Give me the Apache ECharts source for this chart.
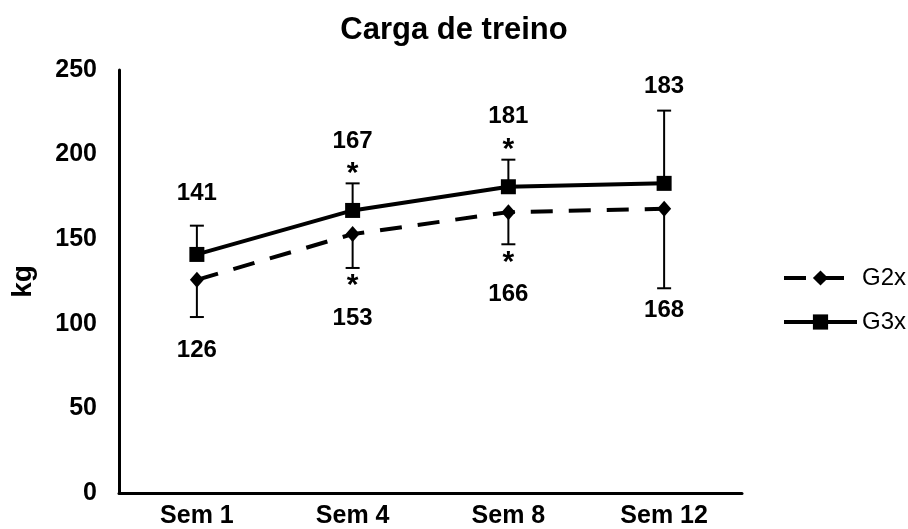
<!DOCTYPE html>
<html>
<head>
<meta charset="utf-8">
<script src="https://cdn.jsdelivr.net/npm/echarts@6/dist/echarts.min.js"></script>
<style>
  html, body { margin: 0; padding: 0; background: #fff; }
  #chart { width: 908px; height: 529px; }
</style>
</head>
<body>
<div id="chart"></div>
<script>
// Weekly training load (kg), mean ± SD for each group
const categories = ['Sem 1', 'Sem 4', 'Sem 8', 'Sem 12'];
const g2Mean = [126, 153, 166, 168];
const g3Mean = [141, 167, 181, 183];
const g2Sd = [22, 20, 19, 47];
const g3Sd = [17, 16, 16, 43];
const significant = [false, true, true, false];
const yTicks = [0, 50, 100, 150, 200, 250];

const FONT = '"Liberation Sans", Arial, sans-serif';

// distance (px) from the end of each error bar to its value label
const labelGapAbove = [32, 42, 43, 24];
const labelGapBelow = [33, 50, 50, 22];

// rows: [categoryIndex, mean, sd, direction (+1 up / -1 down), significant]
function errorRows(means, sds, dir) {
  return means.map((m, i) => [i, m, sds[i], dir, significant[i] ? 1 : 0]);
}

function renderError(params, api) {
  const i = api.value(0);
  const mean = api.value(1);
  const sd = api.value(2);
  const dir = api.value(3);
  const sig = api.value(4);
  const p0 = api.coord([i, mean]);
  const p1 = api.coord([i, mean + dir * sd]);
  const cap = 7;
  const stroke = { stroke: '#000', lineWidth: 2 };
  const children = [
    { type: 'line', shape: { x1: p0[0], y1: p0[1], x2: p1[0], y2: p1[1] }, style: stroke },
    { type: 'line', shape: { x1: p1[0] - cap, y1: p1[1], x2: p1[0] + cap, y2: p1[1] }, style: stroke }
  ];
  if (sig) {
    children.push({
      type: 'text',
      style: {
        x: p1[0], y: p1[1] - dir * 14 + 4,
        text: '*', fill: '#000',
        font: 'bold 30px ' + FONT,
        align: 'center', verticalAlign: 'middle'
      }
    });
  }
  const gap = dir > 0 ? labelGapAbove[i] : labelGapBelow[i];
  children.push({
    type: 'text',
    style: {
      x: p1[0], y: p1[1] - dir * gap,
      text: String(mean), fill: '#000',
      font: 'bold 24px ' + FONT,
      align: 'center', verticalAlign: 'middle'
    }
  });
  return { type: 'group', children };
}

const chart = echarts.init(document.getElementById('chart'), null, { renderer: 'canvas' });

chart.setOption({
  animation: false,
  backgroundColor: '#fff',
  textStyle: { fontFamily: FONT },
  title: {
    text: 'Carga de treino',
    left: 'center',
    top: 10,
    textStyle: { fontFamily: FONT, fontWeight: 'bold', fontSize: 31, color: '#000' }
  },
  legend: {
    orient: 'vertical',
    left: 782,
    top: 266,
    padding: 0,
    itemWidth: 73,
    itemHeight: 19,
    itemGap: 20,
    data: ['G2x', 'G3x'],
    lineStyle: { width: 4 },
    textStyle: { fontFamily: FONT, fontSize: 24, color: '#000' }
  },
  grid: { left: 119, right: 166, top: 70, bottom: 36 },
  xAxis: {
    type: 'category',
    data: categories,
    boundaryGap: true,
    axisLine: { lineStyle: { color: '#000', width: 3 } },
    axisTick: { show: false },
    axisLabel: { color: '#000', fontFamily: FONT, fontWeight: 'bold', fontSize: 25, margin: 11 }
  },
  yAxis: {
    type: 'value',
    min: yTicks[0],
    max: yTicks[yTicks.length - 1],
    interval: 50,
    name: 'kg',
    nameLocation: 'middle',
    nameGap: 82,
    nameTextStyle: { color: '#000', fontFamily: FONT, fontWeight: 'bold', fontSize: 28 },
    axisLine: { show: true, lineStyle: { color: '#000', width: 3 } },
    axisTick: { show: false },
    splitLine: { show: false },
    axisLabel: { color: '#000', fontFamily: FONT, fontWeight: 'bold', fontSize: 25, margin: 22 }
  },
  series: [
    {
      name: 'G2x-sd',
      type: 'custom',
      renderItem: renderError,
      data: errorRows(g2Mean, g2Sd, -1),
      z: 1,
      silent: true
    },
    {
      name: 'G3x-sd',
      type: 'custom',
      renderItem: renderError,
      data: errorRows(g3Mean, g3Sd, 1),
      z: 1,
      silent: true
    },
    {
      name: 'G2x',
      type: 'line',
      data: g2Mean,
      symbol: 'diamond',
      symbolSize: [14, 16],
      showSymbol: true,
      lineStyle: { color: '#000', width: 4, type: [22, 16] },
      itemStyle: { color: '#000', borderWidth: 0 },
      z: 3
    },
    {
      name: 'G3x',
      type: 'line',
      data: g3Mean,
      symbol: 'rect',
      symbolSize: 15,
      showSymbol: true,
      lineStyle: { color: '#000', width: 4 },
      itemStyle: { color: '#000', borderWidth: 0 },
      z: 3
    }
  ]
});
</script>
</body>
</html>
